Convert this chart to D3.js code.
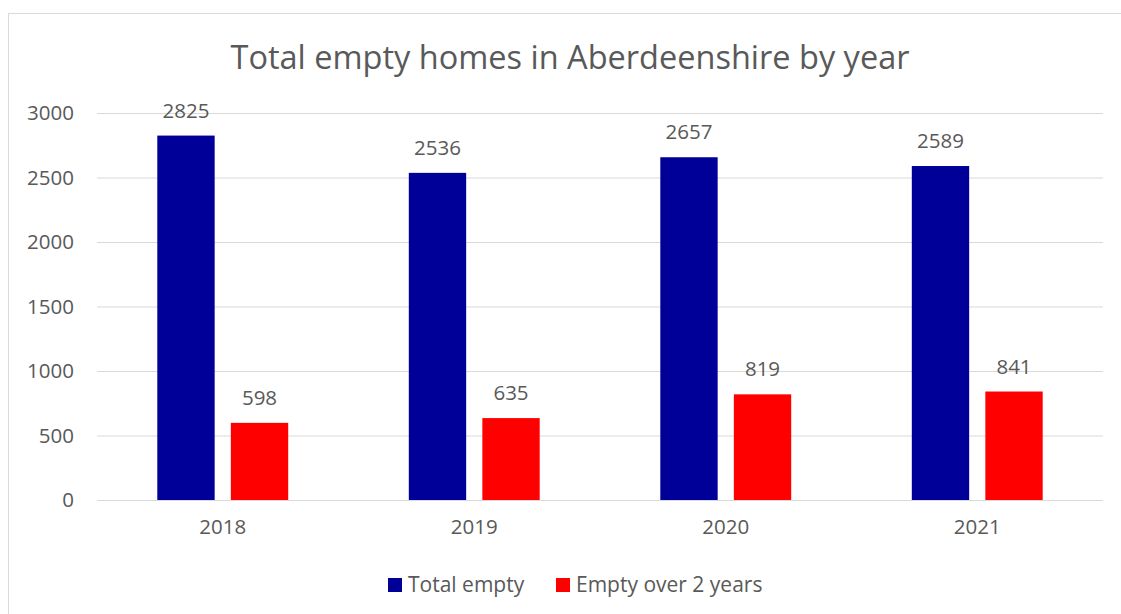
<!DOCTYPE html>
<html>
  <head>
    <meta charset="utf-8">
    <title>Total empty homes in Aberdeenshire by year</title>
    <script src="https://d3js.org/d3.v7.min.js"></script>
  </head>
  <style>
    body { margin: 0; background: #fff; }
    text { font-family: "Open Sans", sans-serif; fill: #595959; }
    .grid-line { stroke: #d9d9d9; stroke-width: 1px; }
  </style>
  <body>
    <script>
      const width = 1121;
      const height = 614;

      // data
      const years = ["2018", "2019", "2020", "2021"];
      const totalEmpty = [2825, 2536, 2657, 2589];
      const emptyOver2 = [598, 635, 819, 841];
      const seriesNames = ["Total empty", "Empty over 2 years"];
      const yTicks = [0, 500, 1000, 1500, 2000, 2500, 3000];
      const colors = ["#000099", "#ff0000"];

      const rows = years.map(function(y, i) {
        return {year: y, values: [totalEmpty[i], emptyOver2[i]]};
      });

      const plot = {left: 97, right: 1103, top: 113, bottom: 500};
      const labelSize = "20.5px";

      const svg = d3.select("body").append("svg")
          .attr("width", width)
          .attr("height", height);

      // outer frame
      svg.append("rect")
          .attr("x", 8.5).attr("y", 13.5)
          .attr("width", 1130).attr("height", 640)
          .attr("fill", "none")
          .attr("stroke", "#d9d9d9");

      const x0 = d3.scaleBand()
        .domain(years)
        .range([plot.left, plot.right]);

      const x1 = d3.scaleBand()
        .domain(d3.range(seriesNames.length))
        .range([0, x0.bandwidth()])
        .paddingInner(0.22)
        .paddingOuter(0.82);

      const y = d3.scaleLinear()
        .domain([0, 3000])
        .range([plot.bottom, plot.top]);

      // gridlines + y labels
      const yAxis = d3.axisLeft(y)
        .tickValues(yTicks)
        .tickFormat(d3.format("d"))
        .tickSize(-(plot.right - plot.left))
        .tickPadding(23);

      const gy = svg.append("g")
          .attr("transform", "translate(" + plot.left + ",0)")
          .call(yAxis);
      gy.select(".domain").remove();
      gy.selectAll(".tick line").classed("grid-line", true).attr("stroke", null);
      gy.selectAll(".tick text")
          .attr("fill", null)
          .style("font-size", labelSize)
          .style("font-family", "'Open Sans', sans-serif");

      // x labels
      const xAxis = d3.axisBottom(x0).tickSize(0).tickPadding(19);
      const gx = svg.append("g")
          .attr("transform", "translate(0," + plot.bottom + ")")
          .call(xAxis);
      gx.select(".domain").remove();
      gx.selectAll(".tick text")
          .attr("fill", null)
          .style("font-size", labelSize)
          .style("font-family", "'Open Sans', sans-serif");

      // bars
      const groups = svg.append("g").selectAll("g")
        .data(rows)
        .enter()
        .append("g")
          .attr("transform", function(d) { return "translate(" + x0(d.year) + ",0)"; });

      groups.selectAll("rect")
        .data(function(d) { return d.values; })
        .enter()
        .append("rect")
          .attr("x", function(d, i) { return x1(i); })
          .attr("y", function(d) { return y(d); })
          .attr("width", x1.bandwidth())
          .attr("height", function(d) { return plot.bottom - y(d); })
          .attr("fill", function(d, i) { return colors[i]; });

      groups.selectAll("text.val")
        .data(function(d) { return d.values; })
        .enter()
        .append("text")
          .classed("val", true)
          .attr("x", function(d, i) { return x1(i) + x1.bandwidth() / 2; })
          .attr("y", function(d) { return y(d) - 18; })
          .attr("text-anchor", "middle")
          .style("font-size", labelSize)
          .text(function(d) { return d; });

      // title
      svg.append("text")
          .attr("x", 570)
          .attr("y", 69)
          .attr("text-anchor", "middle")
          .style("font-size", "32.5px")
          .text("Total empty homes in Aberdeenshire by year");

      // legend
      const legendX = [388, 556];
      const legend = svg.append("g").selectAll("g")
        .data(seriesNames)
        .enter()
        .append("g")
          .attr("transform", function(d, i) { return "translate(" + legendX[i] + ",578)"; });
      legend.append("rect")
          .attr("width", 14).attr("height", 14)
          .attr("fill", function(d, i) { return colors[i]; });
      legend.append("text")
          .attr("x", 20).attr("y", 14)
          .style("font-size", "21px")
          .text(function(d) { return d; });
    </script>
  </body>
</html>
